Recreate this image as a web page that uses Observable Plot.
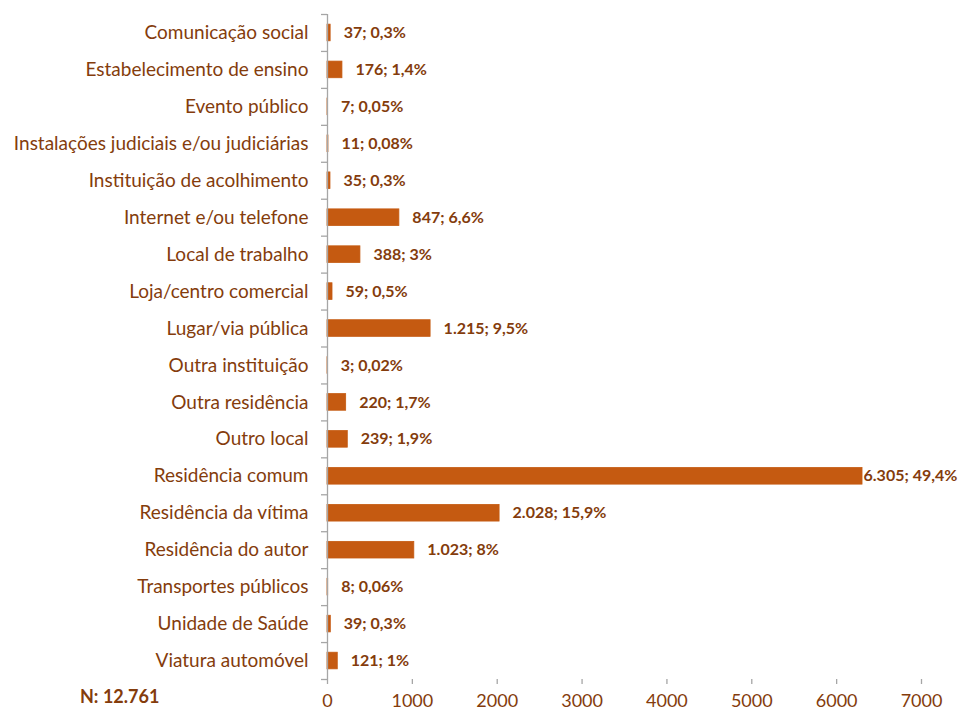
<!DOCTYPE html>
<html><head><meta charset="utf-8">
<script src="https://cdn.jsdelivr.net/npm/d3@7"></script>
<script src="https://cdn.jsdelivr.net/npm/@observablehq/plot@0.6"></script>
<style>
body{margin:0;background:#fff;font-family:Lato,"Open Sans",sans-serif;}
#wrap{position:relative;width:960px;height:711px;}
#n{position:absolute;left:80px;top:685px;font-size:18px;font-weight:bold;color:#843C0C;}
</style></head>
<body><div id="wrap"><div id="n">N: 12.761</div></div>
<script>
const categories = ["Comunicação social","Estabelecimento de ensino","Evento público","Instalações judiciais e/ou judiciárias","Instituição de acolhimento","Internet e/ou telefone","Local de trabalho","Loja/centro comercial","Lugar/via pública","Outra instituição","Outra residência","Outro local","Residência comum","Residência da vítima","Residência do autor","Transportes públicos","Unidade de Saúde","Viatura automóvel"];
const values = [37,176,7,11,35,847,388,59,1215,3,220,239,6305,2028,1023,8,39,121];
const percents = ["0,3%","1,4%","0,05%","0,08%","0,3%","6,6%","3%","0,5%","9,5%","0,02%","1,7%","1,9%","49,4%","15,9%","8%","0,06%","0,3%","1%"];
const xTicks = [0,1000,2000,3000,4000,5000,6000,7000];

const data = categories.map((c,i)=>({cat:c, v:values[i], label: d3.format(",")(values[i]).replace(/,/g,".") + "; " + percents[i]}));
const W=960,H=711,mt=14,mb=32,ml=327,mr=39;
const step=(H-mt-mb)/categories.length;
const brown="#843C0C", bar="#C55A11", gray="#A6A6A6";
const maxV = d3.max(values);

const chart = Plot.plot({
  width:W,height:H,marginTop:mt,marginBottom:mb,marginLeft:ml,marginRight:mr,
  style:{fontFamily:"Lato, 'Open Sans', sans-serif",color:brown,background:"#fff",overflow:"visible"},
  x:{domain:[0,7000]},
  y:{domain:categories,paddingInner:0.55,paddingOuter:0.275,round:false},
  marks:[
    Plot.barX(data,{y:"cat",x:"v",fill:bar,stroke:bar,strokeWidth:0.8}),
    Plot.text(data.filter(d=>d.v<maxV),{y:"cat",x:"v",text:"label",textAnchor:"start",dx:13,fill:brown,fontWeight:"bold",fontSize:16}),
    Plot.text(data.filter(d=>d.v===maxV),{y:"cat",x:"v",text:"label",textAnchor:"start",dx:1,fill:brown,fontWeight:"bold",fontSize:16}),
    Plot.axisY({tickSize:0,tickPadding:19,fontSize:19,fill:brown,label:null}),
    Plot.axisY({ticks:categories,tickSize:6,text:null,dy:-step/2,stroke:gray,strokeWidth:1.3,strokeOpacity:1,label:null}),
    Plot.axisY({ticks:[categories[categories.length-1]],tickSize:6,text:null,dy:step/2,stroke:gray,strokeWidth:1.3,strokeOpacity:1,label:null}),
    Plot.ruleX([0],{stroke:gray,strokeWidth:1.3}),
    Plot.ruleY([0],{frameAnchor:"bottom",stroke:gray,strokeWidth:1.3}),
    Plot.axisX({ticks:xTicks,tickSize:5,tickPadding:10,stroke:gray,strokeWidth:1.3,strokeOpacity:1,fontSize:18,fill:brown,tickFormat:d=>String(d),label:null})
  ]
});
document.getElementById("wrap").prepend(chart);
chart.style.position="absolute";chart.style.left="0";chart.style.top="0";
</script></body></html>
